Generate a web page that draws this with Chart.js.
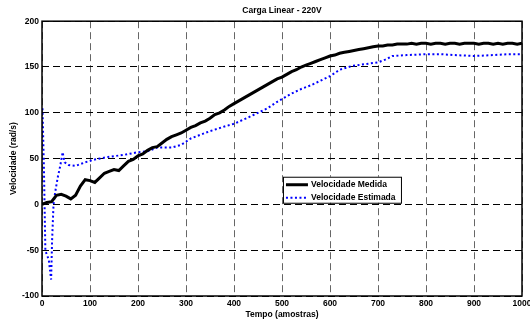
<!DOCTYPE html>
<html>
<head>
<meta charset="utf-8">
<script src="https://cdn.jsdelivr.net/npm/chart.js@4.4.1/dist/chart.umd.min.js"></script>
<style>
  body { margin: 0; background: #fff; }
</style>
</head>
<body>
<canvas id="myChart" width="530" height="320"></canvas>
<script>
// measured speed, one value every 10 samples (0..1000)
var medidaX = [];
for (var i = 0; i <= 100; i++) medidaX.push(i * 10);
var medidaY = [
    0, 2, 3, 10, 11, 9, 6, 10, 20, 27,
    26, 24, 29, 34, 36, 38, 37, 42, 47, 49,
    53, 55, 59, 62, 63, 67, 71, 74, 76, 78,
    81, 84, 86, 89, 91, 94, 98, 100, 103, 107,
    110, 113, 116, 119, 122, 125, 128, 131, 134, 137,
    139, 142, 145, 147, 150, 152, 154, 156, 158, 160,
    162, 163, 165, 166, 167, 168, 169, 170, 171, 172,
    173, 173, 174, 174, 175, 175, 175, 176, 175, 176,
    176, 175, 176, 176, 175, 176, 176, 175, 176, 176,
    176, 175, 176, 176, 175, 176, 175, 176, 176, 175,
    176
];

// estimated speed
var estimadaX = [1, 4, 7, 10, 14, 19, 21, 24, 28, 33, 38, 43, 47, 55, 70, 90, 110, 140, 170, 200,
    220, 240, 270, 290, 310, 330, 350, 380, 400, 430, 470, 490, 520, 540, 560, 580, 600, 620, 645, 670,
    700, 715, 730, 760, 800, 830, 860, 900, 940, 970, 1000];
var estimadaY = [105, 40, -50, -55, -60, -82, -40, 0, 15, 30, 42, 57, 46, 43, 42, 46, 49, 52, 54, 57,
    58, 62, 62, 65, 72, 76, 80, 85, 88, 95, 105, 112, 121, 126, 130, 135, 140, 147, 151, 153,
    155, 158, 162, 163, 164, 164, 163, 162, 163, 164, 164];

var xTicks = [0, 100, 200, 300, 400, 500, 600, 700, 800, 900, 1000];
var yTicks = [-100, -50, 0, 50, 100, 150, 200];

function toPoints(xs, ys) {
    var p = [];
    for (var i = 0; i < xs.length; i++) p.push({ x: xs[i], y: ys[i] });
    return p;
}

var FONT = "'Liberation Sans', Arial, sans-serif";
var FSIZE = 8.5;

// box around the plot + legend inside the axes, matlab style
var boxAndLegend = {
    id: 'boxAndLegend',
    afterDraw: function(chart) {
        var ctx = chart.ctx;
        var a = chart.chartArea;
        ctx.save();
        ctx.strokeStyle = '#000';
        ctx.lineWidth = 1.5;
        ctx.strokeRect(a.left, a.top, a.right - a.left, a.bottom - a.top);

        var lx = a.left + (a.right - a.left) * 0.502;
        var ly = a.top + (a.bottom - a.top) * 0.566;
        var w = 118, h = 26;
        ctx.fillStyle = '#fff';
        ctx.fillRect(lx, ly, w, h);
        ctx.lineWidth = 1;
        ctx.strokeRect(lx + 0.5, ly + 0.5, w, h);

        ctx.font = 'bold ' + FSIZE + 'px ' + FONT;
        ctx.textBaseline = 'middle';
        chart.data.datasets.forEach(function(ds, i) {
            var y = ly + 8 + i * 13;
            ctx.beginPath();
            ctx.strokeStyle = ds.borderColor;
            ctx.lineWidth = ds.borderWidth;
            ctx.setLineDash(ds.borderDash || []);
            ctx.moveTo(lx + 3, y);
            ctx.lineTo(lx + 25, y);
            ctx.stroke();
            ctx.setLineDash([]);
            ctx.fillStyle = '#000';
            ctx.fillText(ds.label, lx + 28, y);
        });
        ctx.restore();
    }
};

const config = {
    type: 'line',
    data: {
        datasets: [
            {
                label: 'Velocidade Medida',
                data: toPoints(medidaX, medidaY),
                borderColor: '#000000',
                borderWidth: 3,
                pointRadius: 0,
                tension: 0,
                fill: false
            },
            {
                label: 'Velocidade Estimada',
                data: toPoints(estimadaX, estimadaY),
                borderColor: '#0000ff',
                borderWidth: 2,
                borderDash: [2, 2.5],
                borderCapStyle: 'butt',
                pointRadius: 0,
                tension: 0,
                fill: false
            }
        ]
    },
    options: {
        responsive: false,
        animation: false,
        devicePixelRatio: 1,
        layout: { padding: { left: 0, right: 8, top: 0, bottom: 0 } },
        plugins: {
            legend: { display: false },
            tooltip: { enabled: false },
            title: {
                display: true,
                text: 'Carga Linear - 220V',
                fullSize: false,
                color: '#000',
                font: { family: FONT, size: FSIZE, weight: 'bold' },
                padding: { top: 6, bottom: 5 }
            }
        },
        scales: {
            x: {
                type: 'linear',
                min: 0,
                max: 1000,
                afterBuildTicks: function(scale) {
                    scale.ticks = xTicks.map(function(v) { return { value: v }; });
                },
                afterFit: function(scale) {
                    scale.height = 24;
                    scale.paddingLeft = 0;
                    scale.paddingRight = 0;
                },
                ticks: {
                    color: '#000',
                    padding: 3,
                    maxRotation: 0,
                    callback: function(v) { return String(v); },
                    font: { family: FONT, size: FSIZE, weight: 'bold' }
                },
                grid: { color: '#666', lineWidth: 1, drawTicks: false },
                border: { display: false, dash: [7, 4] },
                title: {
                    display: true,
                    text: 'Tempo (amostras)',
                    color: '#000',
                    font: { family: FONT, size: FSIZE, weight: 'bold' },
                    padding: { top: 0, bottom: 0 }
                }
            },
            y: {
                min: -100,
                max: 200,
                afterBuildTicks: function(scale) {
                    scale.ticks = yTicks.map(function(v) { return { value: v }; });
                },
                afterFit: function(scale) {
                    scale.width = 42;
                },
                ticks: {
                    color: '#000',
                    padding: 3,
                    callback: function(v) { return String(v); },
                    font: { family: FONT, size: FSIZE, weight: 'bold' }
                },
                grid: { color: '#000', lineWidth: 1, drawTicks: false },
                border: { display: false, dash: [7, 4] },
                title: {
                    display: true,
                    text: 'Velocidade (rad/s)',
                    color: '#000',
                    font: { family: FONT, size: FSIZE, weight: 'bold' },
                    padding: { top: 9, bottom: 0 }
                }
            }
        }
    },
    plugins: [boxAndLegend]
};

new Chart(document.getElementById('myChart'), config);
</script>
</body>
</html>
